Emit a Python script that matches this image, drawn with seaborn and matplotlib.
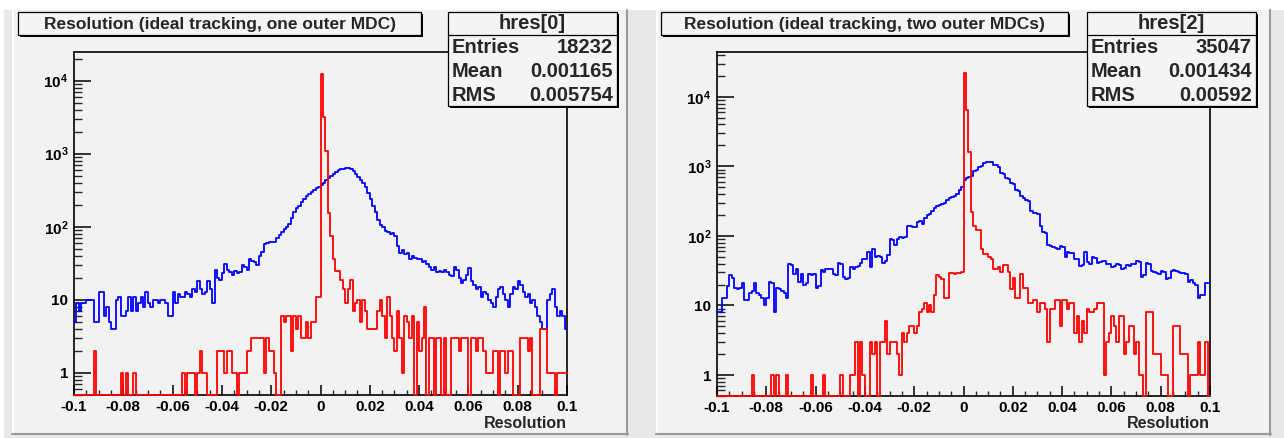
import numpy as np
import pandas as pd
import matplotlib
matplotlib.use("Agg")
import matplotlib.pyplot as plt
import seaborn as sns
from matplotlib.patches import Rectangle
from matplotlib.lines import Line2D
from matplotlib.ticker import FixedLocator, NullFormatter

# ---------------- data (counts per bin, 200 bins from -0.1 to 0.1) ----------------
bin_lo, bin_hi, n_bins = -0.1, 0.1, 200

left_blue = [
    5, 9, 7, 9, 9, 10, 10, 10, 5, 5,
    13, 13, 6, 8, 5, 4, 4, 10, 11, 6,
    6, 7, 11, 7, 11, 7, 9, 11, 8, 13,
    9, 8, 10, 10, 9, 10, 10, 9, 6, 6,
    13, 9, 12, 11, 11, 13, 12, 11, 14, 13,
    18, 14, 12, 13, 18, 14, 9, 26, 20, 19,
    23, 31, 26, 24, 22, 25, 23, 24, 30, 28,
    26, 36, 34, 33, 30, 40, 45, 58, 60, 62,
    62, 62, 70, 76, 85, 94, 100, 110, 130, 158,
    180, 195, 215, 240, 260, 280, 300, 315, 335, 350,
    370, 400, 440, 470, 490, 520, 560, 590, 610, 625,
    630, 630, 610, 580, 530, 480, 440, 400, 350, 290,
    240, 195, 158, 125, 105, 98, 88, 85, 80, 82,
    75, 55, 44, 48, 42, 44, 36, 40, 38, 36,
    36, 33, 34, 31, 28, 26, 28, 24, 25, 24,
    26, 24, 22, 21, 28, 26, 20, 17, 19, 22,
    27, 18, 16, 14, 15, 11, 13, 12, 10, 9,
    8, 11, 14, 15, 12, 10, 8, 12, 15, 14,
    18, 16, 13, 11, 12, 9, 10, 8, 6, 5,
    4, 4, 10, 12, 14, 8, 6, 7, 6, 4,
]
left_red = [
    0, 0, 0, 0, 0, 0, 0, 0, 2, 0,
    0, 0, 0, 0, 0, 0, 0, 0, 0, 1,
    0, 1, 0, 0, 1, 0, 0, 0, 0, 0,
    0, 0, 0, 0, 0, 0, 0, 0, 0, 0,
    0, 0, 0, 0, 1, 0, 1, 1, 1, 0,
    1, 2, 1, 1, 0, 0, 0, 0, 2, 2,
    2, 1, 2, 2, 1, 1, 0, 1, 1, 1,
    2, 2, 3, 3, 3, 3, 3, 1, 3, 2,
    2, 1, 0, 0, 6, 5, 6, 6, 2, 6,
    4, 6, 3, 3, 5, 3, 5, 5, 11, 11,
    12300, 3200, 1100, 155, 75, 36, 25, 25, 19, 14,
    9, 14, 19, 7, 9, 10, 5, 10, 7, 4,
    4, 4, 4, 7, 10, 6, 3, 11, 6, 3,
    2, 7, 3, 1, 6, 5, 3, 6, 0, 5,
    2, 3, 8, 0, 3, 3, 0, 3, 3, 0,
    3, 0, 0, 3, 3, 3, 2, 3, 3, 3,
    0, 3, 3, 2, 3, 3, 2, 1, 1, 1,
    2, 2, 0, 2, 2, 1, 2, 2, 0, 0,
    0, 3, 3, 3, 2, 3, 0, 0, 0, 4,
    4, 4, 1, 1, 1, 0, 1, 1, 1, 1,
]
right_blue = [
    8, 8, 13, 13, 19, 27, 25, 18, 17, 18,
    21, 12, 12, 15, 16, 21, 15, 14, 13, 10,
    13, 22, 21, 8, 18, 17, 16, 15, 13, 39,
    38, 28, 33, 22, 28, 20, 21, 28, 27, 28,
    18, 19, 32, 30, 33, 34, 33, 28, 27, 41,
    40, 26, 24, 25, 36, 34, 36, 37, 41, 47,
    46, 58, 36, 65, 50, 52, 49, 41, 43, 53,
    90, 88, 73, 90, 95, 94, 97, 140, 138, 136,
    133, 160, 165, 150, 180, 200, 207, 230, 250, 265,
    275, 290, 300, 330, 350, 360, 380, 400, 460, 510,
    640, 680, 700, 720, 860, 900, 980, 1020, 1120, 1150,
    1160, 1140, 1060, 1030, 990, 800, 780, 680, 650, 580,
    560, 460, 440, 370, 350, 330, 320, 225, 215, 210,
    205, 140, 115, 110, 74, 72, 70, 66, 64, 72,
    70, 49, 58, 57, 56, 46, 47, 37, 38, 58,
    42, 40, 50, 48, 41, 42, 43, 44, 39, 40,
    36, 37, 39, 38, 34, 35, 38, 37, 39, 40,
    43, 42, 26, 27, 41, 40, 31, 30, 29, 28,
    31, 30, 24, 25, 31, 32, 31, 30, 29, 29,
    28, 22, 23, 21, 20, 13, 14, 14, 21, 21,
]
right_red = [
    0, 0, 0, 0, 0, 0, 0, 0, 0, 0,
    0, 0, 0, 0, 1, 0, 0, 0, 0, 0,
    0, 0, 1, 0, 1, 0, 0, 0, 1, 0,
    0, 0, 0, 0, 0, 0, 0, 0, 1, 0,
    0, 0, 0, 1, 0, 0, 0, 0, 0, 0,
    1, 0, 0, 0, 1, 1, 3, 0, 3, 1,
    0, 0, 3, 2, 3, 0, 3, 3, 6, 2,
    3, 3, 3, 2, 1, 4, 3, 4, 5, 5,
    4, 5, 8, 9, 11, 8, 10, 8, 14, 27,
    26, 24, 13, 13, 29, 29, 28, 29, 29, 30,
    22000, 6500, 1600, 220, 140, 120, 120, 65, 55, 55,
    50, 46, 33, 33, 36, 30, 38, 38, 30, 17,
    25, 13, 13, 28, 18, 18, 11, 11, 12, 12,
    8, 11, 11, 9, 3, 9, 9, 12, 12, 5,
    12, 12, 9, 11, 11, 4, 7, 3, 6, 4,
    9, 8, 8, 9, 11, 11, 11, 1, 3, 4,
    7, 5, 3, 7, 7, 2, 3, 5, 5, 2,
    3, 1, 1, 0, 8, 8, 8, 2, 2, 2,
    1, 1, 1, 0, 0, 5, 5, 5, 2, 2,
    2, 0, 1, 1, 1, 3, 1, 1, 3, 0,
]

titles = ["Resolution (ideal tracking, one outer MDC)",
          "Resolution (ideal tracking, two outer MDCs)"]
hist_names = ["hres[0]", "hres[2]"]
stat_labels = ["Entries", "Mean", "RMS"]
stat_values = [["18232", "0.001165", "0.005754"],
               ["35047", "0.001434", "0.00592"]]
x_tick_values = [-0.1, -0.08, -0.06, -0.04, -0.02, 0.0, 0.02, 0.04, 0.06, 0.08, 0.1]
x_tick_labels = ["-0.1", "-0.08", "-0.06", "-0.04", "-0.02", "0",
                 "0.02", "0.04", "0.06", "0.08", "0.1"]
y_tick_values = [1, 10, 100, 1000, 10000]
y_tick_labels = ["1", "10", r"$\mathbf{10^{2}}$", r"$\mathbf{10^{3}}$", r"$\mathbf{10^{4}}$"]
x_label = "Resolution"
y_max = [24600, 44000]
y_min = 0.5

# ---------------- style ----------------
sns.set_theme(style="white")
plt.rcParams["font.family"] = ["Liberation Sans", "DejaVu Sans"]
plt.rcParams["font.weight"] = "bold"
plt.rcParams["mathtext.fontset"] = "custom"
plt.rcParams["mathtext.rm"] = "Liberation Sans:bold"
plt.rcParams["mathtext.bf"] = "Liberation Sans:bold"
plt.rcParams["mathtext.it"] = "Liberation Sans:bold"

W, H = 1284, 438
fig = plt.figure(figsize=(W / 100, H / 100), dpi=100, facecolor="white")


def fx(px):
    return px / W


def fy(py):
    return 1 - py / H


def rect(x0, y0, x1, y1, **kw):
    r = Rectangle((fx(x0), fy(y1)), fx(x1) - fx(x0), fy(y0) - fy(y1),
                  transform=fig.transFigure, **kw)
    fig.add_artist(r)
    return r


def hline(x0, x1, y, **kw):
    fig.add_artist(Line2D([fx(x0), fx(x1)], [fy(y), fy(y)], transform=fig.transFigure, **kw))


def vline(x, y0, y1, **kw):
    fig.add_artist(Line2D([fx(x), fx(x)], [fy(y0), fy(y1)], transform=fig.transFigure, **kw))


# canvas background
rect(4, 10, 1284, 438, facecolor="#e8e8e8", edgecolor="none", zorder=-5)

layout = [
    dict(pad=(12, 10, 628, 435), ax=(74, 52, 567, 395), tbox=(18, 12, 421, 35),
         sbox=(448, 12, 617, 106)),
    dict(pad=(656, 10, 1271, 435), ax=(717, 52, 1210, 396), tbox=(661, 12, 1068, 35),
         sbox=(1087, 12, 1256, 106)),
]
series = [(left_blue, left_red), (right_blue, right_red)]
edges = np.linspace(bin_lo, bin_hi, n_bins + 1)
centers = 0.5 * (edges[:-1] + edges[1:])
edge_list = [float(e) for e in edges]

for k, lay in enumerate(layout):
    px0, py0, px1, py1 = lay["pad"]
    rect(px0, py0, px1, py1, facecolor="#f2f2f2", edgecolor="none", zorder=-4)
    vline(px0 + 1, py0, py1, color="white", lw=1.5, zorder=-3)
    vline(px1 - 1, py0, py1, color="#9a9a9a", lw=1.5, zorder=-3)
    hline(px0, px1, py1 - 1, color="#9a9a9a", lw=1.5, zorder=-3)

    ax0, ay0, ax1, ay1 = lay["ax"]
    ax = fig.add_axes([fx(ax0), fy(ay1), fx(ax1) - fx(ax0), fy(ay0) - fy(ay1)])
    ax.set_facecolor("none")

    blue, red = series[k]
    for vals, col in [(blue, "#0000ff"), (red, "#ff0000")]:
        sub = pd.DataFrame({"x": centers, "w": np.maximum(np.asarray(vals, float), y_min)})
        sns.histplot(data=sub, x="x", weights="w", bins=edge_list, element="step",
                     fill=False, color=col, linewidth=1.3, ax=ax)
    for ln in ax.lines:
        ln.set_clip_on(False)
        ln.set_zorder(3)

    ax.set_yscale("log")
    ax.set_xlim(bin_lo, bin_hi)
    ax.set_ylim(y_min, y_max[k])
    ax.set_xlabel("")
    ax.set_ylabel("")
    for s in ax.spines.values():
        s.set_color("black")
        s.set_linewidth(1.2)
        s.set_visible(True)

    ax.xaxis.set_major_locator(FixedLocator(x_tick_values))
    ax.set_xticklabels(x_tick_labels)
    minors = [v for v in np.round(np.arange(-0.1, 0.1001, 0.005), 3)
              if not np.any(np.isclose(v, x_tick_values))]
    ax.xaxis.set_minor_locator(FixedLocator(minors))
    ax.xaxis.set_minor_formatter(NullFormatter())
    ax.yaxis.set_major_locator(FixedLocator(y_tick_values))
    ax.set_yticklabels(y_tick_labels)
    ymin_minor = [m * 10 ** e for e in range(-1, 5) for m in range(2, 10)]
    ymin_minor = [v for v in ymin_minor if y_min <= v <= y_max[k]]
    ax.yaxis.set_minor_locator(FixedLocator(ymin_minor))
    ax.yaxis.set_minor_formatter(NullFormatter())

    ax.tick_params(axis="x", which="major", direction="in", length=7.5, width=1.1,
                   bottom=True, top=False, pad=3.5, labelsize=11, colors="black")
    ax.tick_params(axis="x", which="minor", direction="in", length=3.8, width=1.0,
                   bottom=True, top=False)
    ax.tick_params(axis="y", which="major", direction="in", length=12.5, width=1.1,
                   left=True, right=False, pad=4, labelsize=11, colors="black")
    ax.tick_params(axis="y", which="minor", direction="in", length=6, width=1.0,
                   left=True, right=False)
    for lab in ax.get_xticklabels() + ax.get_yticklabels():
        lab.set_fontweight("bold")

    fig.text(fx(ax1), fy(423), x_label, ha="right", va="center",
             fontsize=11.5, fontweight="bold")

    # title box with shadow
    tx0, ty0, tx1, ty1 = lay["tbox"]
    rect(tx0 + 2, ty0 + 2, tx1 + 2, ty1 + 2, facecolor="black", edgecolor="none", zorder=6)
    rect(tx0, ty0, tx1, ty1, facecolor="#f4f4f4", edgecolor="black", lw=0.9, zorder=7)
    fig.text(fx((tx0 + tx1) / 2), fy((ty0 + ty1) / 2 + 0.5), titles[k], ha="center",
             va="center", fontsize=12.5, fontweight="bold", zorder=8)

    # stats box with shadow
    sx0, sy0, sx1, sy1 = lay["sbox"]
    rect(sx0 + 2, sy0 + 2, sx1 + 2, sy1 + 2, facecolor="black", edgecolor="none", zorder=6)
    rect(sx0, sy0, sx1, sy1, facecolor="#f4f4f4", edgecolor="black", lw=0.9, zorder=7)
    hline(sx0, sx1, sy0 + 22.5, color="black", lw=0.9, zorder=8)
    fig.text(fx((sx0 + sx1) / 2), fy(sy0 + 11.5), hist_names[k], ha="center", va="center",
             fontsize=14.5, fontweight="bold", zorder=8)
    for r, (lab, val) in enumerate(zip(stat_labels, stat_values[k])):
        yy = sy0 + 35.5 + r * 24
        fig.text(fx(sx0 + 4), fy(yy), lab, ha="left", va="center", fontsize=14.5,
                 fontweight="bold", zorder=8)
        fig.text(fx(sx1 - 4), fy(yy), val, ha="right", va="center", fontsize=14.5,
                 fontweight="bold", zorder=8)

fig.savefig("out.png", dpi=100, facecolor=fig.get_facecolor())
